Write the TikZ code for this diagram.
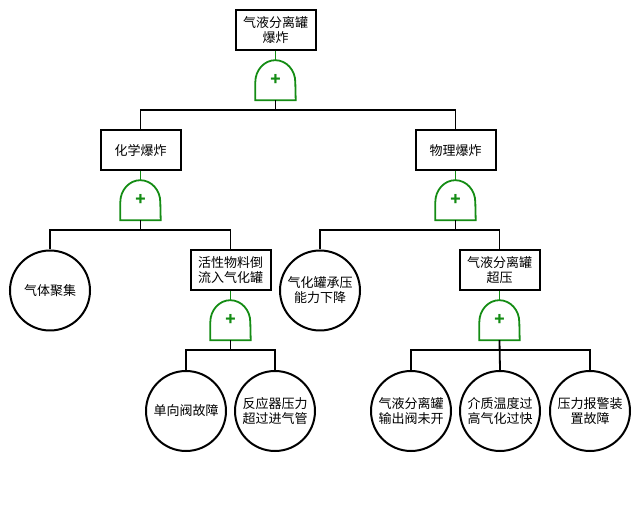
\documentclass[tikz,border=0pt]{standalone}
\usepackage{fontspec}
\setmainfont{Noto Sans CJK SC}
\usetikzlibrary{calc}
\definecolor{gategreen}{RGB}{20,140,20}
\tikzset{
  event/.style={draw,line width=2pt,minimum width=80pt,minimum height=40pt,inner sep=1pt,align=center,font=\fontsize{13}{15}\selectfont},
  basic/.style={draw,circle,line width=2pt,minimum size=80pt,inner sep=0pt,align=center,font=\fontsize{13}{15}\selectfont},
  gate/.style={minimum width=40pt,minimum height=40pt,inner sep=0pt,text=gategreen,font=\bfseries\fontsize{17}{17}\selectfont},
  link/.style={line width=1.8pt},
  glink/.style={line width=1.8pt,gategreen}
}
% or-gate: name, position
\newcommand{\orgate}[2]{%
  \node[gate] (#1) at (#2) {+};
  \draw[glink] (#1.south west) -- ++(0pt,18pt) arc[start angle=180,end angle=0,x radius=20pt,y radius=22pt] -- (#1.south east) -- cycle;
}

\begin{document}
\begin{tikzpicture}[x=1pt,y=-1pt]
    \useasboundingbox (0,0) rectangle (640,510);
      % top event
      \node[event] (top) at (275.5,30.5) {气液分离罐\\爆炸};
      \orgate{g0}{275.5,80}
      \draw[glink] (top.south) -- (g0.north);
      % second level
      \node[event] (chem) at (140.5,150.5) {化学爆炸};
      \node[event] (phys) at (455.5,150.5) {物理爆炸};
      \draw[link] (g0.south) -- ++(0,10) -| (chem.north);
      \draw[link] (g0.south) -- ++(0,10) -| (phys.north);
      \orgate{g1}{140.5,200}
      \orgate{g2}{455.5,200}
      \draw[glink] (chem.south) -- (g1.north);
      \draw[glink] (phys.south) -- (g2.north);
      % third level
      \node[basic] (gas) at (50,290.5) {气体聚集};
      \node[event] (flow) at (230.5,270.5) {活性物料倒\\流入气化罐};
      \node[basic] (cap) at (320,290.5) {气化罐承压\\能力下降};
      \node[event] (over) at (499.5,270.5) {气液分离罐\\超压};
      \draw[link] (g1.south) -- ++(0,10) -| (gas.north);
      \draw[link] (g1.south) -- ++(0,10) -| (flow.north);
      \draw[link] (g2.south) -- ++(0,10) -| (cap.north);
      \draw[link] (g2.south) -- ++(0,10) -| (over.north);
      \orgate{g3}{230.5,320}
      \orgate{g4}{499.5,320}
      \draw[glink] (flow.south) -- (g3.north);
      \draw[glink] (over.south) -- (g4.north);
      % basic events
      \node[basic] (valve) at (186,411) {单向阀故障};
      \node[basic] (press) at (275,411) {反应器压力\\超过进气管};
      \node[basic] (outv) at (411,411) {气液分离罐\\输出阀未开};
      \node[basic] (temp) at (500,411) {介质温度过\\高气化过快};
      \node[basic] (alarm) at (590,411) {压力报警装\\置故障};
      \draw[link] (g3.south) -- ++(0,10) -| (valve.north);
      \draw[link] (g3.south) -- ++(0,10) -| (press.north);
      \draw[link] (g4.south) -- ++(0,10) -| (outv.north);
      \draw[link] (g4.south) -- (temp.north);
      \draw[link] (g4.south) -- ++(0,10) -| (alarm.north);
     \end{tikzpicture}
\end{document}
